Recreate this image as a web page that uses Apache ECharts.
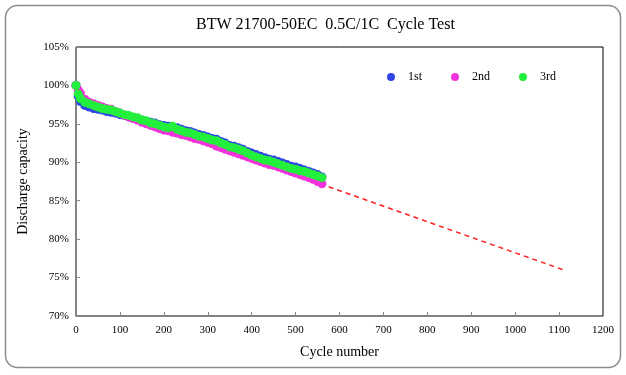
<!DOCTYPE html>
<html>
<head>
<meta charset="utf-8">
<script src="https://cdn.jsdelivr.net/npm/echarts@6/dist/echarts.min.js"></script>
<style>
  html, body { margin: 0; padding: 0; background: #fff; }
  #cycleChart { width: 626px; height: 375px; }
</style>
</head>
<body>
<div id="cycleChart"></div>
<script>
// cycle numbers where capacity was read
var cycles = [0, 5, 10, 20, 30, 40, 50, 60, 70, 80, 90, 100, 110, 120, 130, 140, 150, 160, 170, 180, 190,
  200, 210, 220, 230, 240, 250, 260, 270, 280, 290, 300, 310, 320, 330, 340, 350, 360, 370, 380, 390,
  400, 410, 420, 430, 440, 450, 460, 470, 480, 490, 500, 510, 520, 530, 540, 550, 560];

// discharge capacity (%)
var first = [100.0, 98.6, 97.9, 97.4, 97.2, 97.0, 96.9, 96.8, 96.6, 96.5, 96.4, 96.2, 96.1, 95.9, 95.8, 95.6, 95.5, 95.3, 95.2, 95.1, 94.9,
  94.8, 94.7, 94.6, 94.5, 94.3, 94.1, 94.0, 93.8, 93.6, 93.5, 93.3, 93.1, 93.0, 92.7, 92.5, 92.2, 92.1, 91.9, 91.7, 91.4,
  91.2, 91.0, 90.8, 90.6, 90.4, 90.3, 90.1, 89.9, 89.7, 89.5, 89.4, 89.2, 89.0, 88.8, 88.6, 88.4, 88.1];
var second = [100.0, 99.4, 99.0, 98.2, 97.8, 97.6, 97.4, 97.2, 97.0, 96.9, 96.6, 96.4, 96.1, 95.9, 95.7, 95.5, 95.2, 95.0, 94.8, 94.6, 94.4,
  94.2, 94.1, 93.9, 93.8, 93.6, 93.5, 93.3, 93.1, 93.0, 92.8, 92.6, 92.4, 92.1, 91.9, 91.7, 91.5, 91.3, 91.1, 90.9, 90.7,
  90.5, 90.3, 90.1, 89.9, 89.7, 89.6, 89.4, 89.2, 89.0, 88.8, 88.6, 88.4, 88.2, 88.0, 87.8, 87.5, 87.2];
var third = [100.0, 98.9, 98.3, 97.8, 97.6, 97.4, 97.2, 97.0, 96.9, 96.8, 96.6, 96.4, 96.2, 96.1, 95.9, 95.8, 95.5, 95.4, 95.1, 95.0, 94.8,
  94.6, 94.5, 94.7, 94.3, 94.1, 93.9, 93.8, 93.6, 93.4, 93.3, 93.1, 92.9, 92.8, 92.5, 92.3, 92.0, 91.9, 91.7, 91.5, 91.2,
  90.9, 90.7, 90.5, 90.3, 90.2, 90.0, 89.8, 89.6, 89.4, 89.2, 89.1, 88.9, 88.8, 88.6, 88.4, 88.2, 88.0];

// extrapolated trend
var trendX = [556, 1110];
var trendY = [87.2, 76.0];

var xTicks = [0, 1200, 100];   // min, max, interval
var yTicks = [70, 105, 5];

function pairs(xs, ys) {
  var out = [];
  for (var i = 0; i < xs.length; i++) out.push([xs[i], ys[i]]);
  return out;
}

var font = 'Liberation Serif';

var option = {
  backgroundColor: '#fff',
  animation: false,
  title: {
    text: 'BTW 21700-50EC  0.5C/1C  Cycle Test',
    left: 191,
    top: 12,
    textStyle: { fontFamily: font, fontSize: 16, fontWeight: 'normal', color: '#000' }
  },
  legend: {
    data: ['1st', '2nd', '3rd'],
    left: 382,
    top: 66,
    icon: 'circle',
    itemWidth: 8,
    itemHeight: 8,
    itemGap: 29,
    textStyle: { fontFamily: font, fontSize: 12, color: '#000', padding: [0, 0, 0, 8] }
  },
  graphic: [{
    type: 'rect',
    shape: { x: 5.5, y: 5.5, width: 615, height: 362, r: 12 },
    style: { fill: 'none', stroke: '#8c8c8c', lineWidth: 1.5 },
    silent: true
  }],
  grid: {
    left: 76, right: 23, top: 47, bottom: 59,
    show: true, borderColor: '#000', borderWidth: 1
  },
  xAxis: {
    type: 'value',
    min: xTicks[0], max: xTicks[1], interval: xTicks[2],
    name: 'Cycle number',
    nameLocation: 'middle',
    nameGap: 29,
    nameTextStyle: { fontFamily: font, fontSize: 14, color: '#000' },
    axisLine: { onZero: false, lineStyle: { color: '#888' } },
    axisTick: { inside: true, length: 4, lineStyle: { color: '#888' } },
    axisLabel: { fontFamily: font, fontSize: 11, color: '#000', margin: 9, formatter: function (v) { return String(v); } },
    splitLine: { show: false }
  },
  yAxis: {
    type: 'value',
    min: yTicks[0], max: yTicks[1], interval: yTicks[2],
    name: 'Discharge capacity',
    nameLocation: 'middle',
    nameGap: 46,
    nameTextStyle: { fontFamily: font, fontSize: 14, color: '#000' },
    axisLine: { onZero: false, lineStyle: { color: '#888' } },
    axisTick: { inside: true, length: 4, lineStyle: { color: '#888' } },
    axisLabel: { fontFamily: font, fontSize: 11, color: '#000', margin: 7, formatter: '{value}%' },
    splitLine: { show: false }
  },
  series: [
    {
      name: '1st', type: 'scatter', symbolSize: 9,
      itemStyle: { color: '#2f45e6', opacity: 1 },
      data: pairs(cycles, first)
    },
    {
      name: '2nd', type: 'scatter', symbolSize: 9,
      itemStyle: { color: '#f233dc', opacity: 1 },
      data: pairs(cycles, second)
    },
    {
      name: '3rd', type: 'scatter', symbolSize: 9,
      itemStyle: { color: '#22f03c', opacity: 1 },
      data: pairs(cycles, third)
    },
    {
      name: 'trend', type: 'line', symbol: 'none',
      lineStyle: { color: '#ff2020', width: 1.5, type: [5, 4] },
      data: pairs(trendX, trendY),
      z: 1
    }
  ]
};

echarts.init(document.getElementById('cycleChart')).setOption(option);
</script>
</body>
</html>
